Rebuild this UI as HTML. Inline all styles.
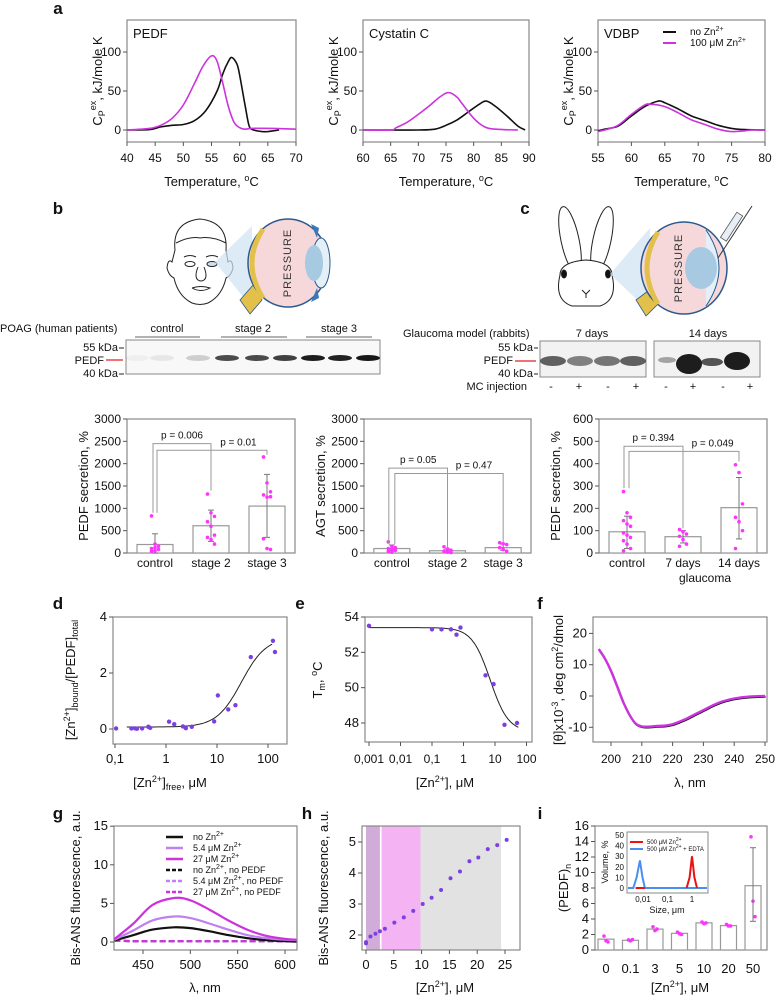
<!DOCTYPE html>
<html><head><meta charset="utf-8"><style>
html,body{margin:0;padding:0;background:#fff;}
svg{display:block;font-family:"Liberation Sans",sans-serif;}
</style></head><body>
<svg id="fig" width="775" height="999" viewBox="0 0 775 999" xmlns="http://www.w3.org/2000/svg">
<rect width="775" height="999" fill="#fff"/>
<!-- Panel b illustration -->
<g fill="none" stroke="#222" stroke-width="1">
<path d="M175,250 Q172,222 200,219 Q228,222 226,250 L228,262 Q232,258 233,268 Q231,276 226,278 Q222,296 208,303 Q200,306 192,303 Q178,296 174,278 Q169,276 167,268 Q168,258 172,262 Z"/>
<path d="M176,243 Q190,236 200,238 Q212,236 226,243" />
<path d="M184,257 q6,-3 12,0"/><path d="M206,257 q6,-3 12,0"/>
<ellipse cx="190" cy="264" rx="5" ry="2.5"/><ellipse cx="212" cy="264" rx="5" ry="2.5" fill="#cfe0ee"/>
<path d="M198,267 q-4,10 0,13 q3,2 6,0 q4,-3 0,-13"/>
<path d="M192,288 q9,-3 18,0 q-9,5 -18,0"/>
</g>
<polygon points="215,262 252,226 252,308" fill="#cfe3f2" opacity="0.7"/>
<g>
<polygon points="240,300 254,284 262,300 250,314" fill="#e2c04a" stroke="#2d5a8e" stroke-width="0.8"/>
<ellipse cx="288" cy="263" rx="40" ry="44" fill="#f6d8db" stroke="#2d5a8e" stroke-width="1.5"/>
<path d="M263,229 Q241,263 263,298" stroke="#e2c04a" stroke-width="5" fill="none"/>
<ellipse cx="321" cy="263" rx="9" ry="25" fill="#e3f0f8" stroke="#2d5a8e" stroke-width="1"/>
<ellipse cx="314" cy="263" rx="9" ry="18" fill="#a8c9e2"/>
<path d="M311,224 l8,4 l-2,10z M311,302 l8,-4 l-2,-10z" fill="#3c77b8"/>
<text x="0" y="0" transform="translate(291,263) rotate(-90)" text-anchor="middle" font-size="11" letter-spacing="1" fill="#333">PRESSURE</text>
</g>
<!-- Panel c illustration -->
<g fill="#fff" stroke="#222" stroke-width="1">
<ellipse cx="570" cy="240" rx="9" ry="34" transform="rotate(-12 570 240)"/>
<ellipse cx="602" cy="240" rx="9" ry="34" transform="rotate(12 602 240)"/>
<path d="M560,275 Q560,262 586,260 Q612,262 612,275 Q618,300 600,306 L572,306 Q554,300 560,275Z"/>
<ellipse cx="564" cy="274" rx="2.5" ry="4" fill="#111"/><ellipse cx="608" cy="274" rx="2.5" ry="4" fill="#111"/>
<path d="M582,290 l4,4 l4,-4 M586,294 v4"/>
</g>
<polygon points="610,274 650,228 650,312" fill="#cfe3f2" opacity="0.7"/>
<g>
<polygon points="636,300 652,288 660,302 646,316" fill="#e2c04a" stroke="#2d5a8e" stroke-width="0.8"/>
<ellipse cx="684" cy="268" rx="43" ry="46" fill="#f6d8db" stroke="#2d5a8e" stroke-width="1.5"/>
<path d="M658,232 Q636,268 658,304" stroke="#e2c04a" stroke-width="5" fill="none"/>
<path d="M706,230 Q732,268 706,306" fill="#e3f0f8" stroke="#2d5a8e" stroke-width="1"/>
<ellipse cx="701" cy="268" rx="16" ry="21" fill="#a8c9e2"/>
<text x="0" y="0" transform="translate(682,268) rotate(-90)" text-anchor="middle" font-size="11" letter-spacing="1" fill="#333">PRESSURE</text>
<line x1="718" y1="258" x2="752" y2="206" stroke="#333" stroke-width="1"/>
<rect x="728" y="212" width="7" height="30" transform="rotate(33 732 227)" fill="#e8eef6" stroke="#555" stroke-width="0.8"/>
</g>
<!-- Blots -->
<g font-size="11" fill="#111">
<text x="0" y="332">POAG (human patients)</text>
<text x="167" y="332" text-anchor="middle">control</text>
<text x="253" y="332" text-anchor="middle">stage 2</text>
<text x="339" y="332" text-anchor="middle">stage 3</text>
<g stroke="#666"><line x1="135" y1="337" x2="200" y2="337"/><line x1="221" y1="337" x2="287" y2="337"/><line x1="306" y1="337" x2="372" y2="337"/></g>
<text x="118" y="351" text-anchor="end">55 kDa</text>
<text x="104" y="364" text-anchor="end">PEDF</text>
<text x="118" y="377" text-anchor="end">40 kDa</text>
<text x="403" y="337">Glaucoma model (rabbits)</text>
<text x="592" y="337" text-anchor="middle">7 days</text>
<text x="708" y="337" text-anchor="middle">14 days</text>
<text x="533" y="351" text-anchor="end">55 kDa</text>
<text x="513" y="364" text-anchor="end">PEDF</text>
<text x="533" y="377" text-anchor="end">40 kDa</text>
<text x="527" y="390" text-anchor="end">MC injection</text>
</g>
<g stroke="#222"><line x1="119" y1="348" x2="124" y2="348"/><line x1="119" y1="374" x2="124" y2="374"/><line x1="534" y1="348" x2="538" y2="348"/><line x1="534" y1="374" x2="538" y2="374"/></g>
<g stroke="#e02020" stroke-width="1.2"><line x1="106" y1="360" x2="123" y2="360"/><line x1="515" y1="361" x2="536" y2="361"/></g>
<rect x="126" y="340" width="254" height="34" fill="#f8f8f8" stroke="#888"/>
<rect x="540" y="341" width="106" height="36" fill="#f2f2f2" stroke="#888"/>
<rect x="654" y="341" width="106" height="36" fill="#f2f2f2" stroke="#888"/>
<g id="bands"></g>
<g id="charts"></g>
</svg>
<script>
// ===== data =====
// panel a
const aPedfNoT=[40,44,46,48,50,52,54,56,57,58,58.6,59.5,60,61,61.7,62.5,64,65,66,67];
const aPedfNoV=[0,0.5,4,6,7,12,25,50,72,88,93,85,70,30,5,0,-2,-2,-1,0];
const aPedfZnT=[40,44,46,48,50,52,53.5,55,56,57,58,59,60,61,62,66,70];
const aPedfZnV=[0,2,6,15,32,60,82,95,88,60,30,10,3,1,2,2,1];
const aCysNoT=[60,65,70,73,75,77,79,81,82.3,84,86,88,89.3];
const aCysNoV=[0,0,0,1,6,13,23,33,37,30,18,5,0];
const aCysZnT=[60,65,66,68,70,72,74,75.5,77,78,80,82,84,88];
const aCysZnV=[0,0,3,10,20,31,43,48,42,33,15,4,1,0];
const aVdNoT=[55,56,58,60,62,64,65,67,69,71,73,75,77,80];
const aVdNoV=[-1,1,5,18,30,37,35,27,18,12,6,2,0.5,0];
const aVdZnT=[55,56,58,60,62,63,65,67,69,71,73,75,77,78,80];
const aVdZnV=[-2,0,6,20,32,33,30,22,13,7,1,-2,-1,0,0];
// panel b/c bar charts
const b1Cats=["control","stage 2","stage 3"];
const b1Vals=[190,610,1050];
const b1ErrLo=[0,260,350];
const b1ErrHi=[430,960,1760];
const b1Dots=[[830,200,150,100,50,80,40,120],[1320,900,820,700,600,400,350,300,200],[2150,1570,1370,1300,1250,1260,320,100,80]];
const b1Ticks=[0,500,1000,1500,2000,2500,3000];
const b2Cats=["control","stage 2","stage 3"];
const b2Vals=[100,50,120];
const b2ErrLo=[60,20,60];
const b2ErrHi=[180,90,200];
const b2Dots=[[250,150,120,100,80,60,40,20],[140,90,60,40,20,10],[230,210,190,120,80,40]];
const b2Ticks=[0,500,1000,1500,2000,2500,3000];
const cCats=["control","7 days","14 days"];
const cVals=[95,73,203];
const cErrLo=[20,45,63];
const cErrHi=[165,100,338];
const cDots=[[275,180,160,145,130,120,90,80,70,55,40,20,10],[105,95,85,75,60,40,30],[395,360,220,160,140,100,20]];
const cTicks=[0,100,200,300,400,500,600];
// panel d
const dX=[0.105,0.21,0.25,0.27,0.34,0.45,0.49,1.15,1.45,2.15,2.45,3.2,8.8,10.4,16.6,23,46,125,137];
const dY=[0.02,0.02,0.02,0.01,0.02,0.08,0.04,0.26,0.17,0.09,0.03,0.08,0.27,1.2,0.7,0.85,2.57,3.15,2.75];
const dFit=[0.07,3.2,30,1.8]; // base, amplitude, K, n
// panel e
const eX=[0.001,0.1,0.2,0.4,0.6,0.8,5,9,20,50];
const eY=[53.5,53.3,53.3,53.3,53.0,53.4,50.7,50.2,47.9,48.0];
const eFit=[47.5,5.9,7,1.5];
// panel f
const fL=[196,198,200,202,204,206,208,210,212,215,218,220,222,225,228,230,233,236,240,245,250];
const fV=[15,12,8,3,-2,-6,-8.8,-9.7,-9.8,-9.6,-9.4,-9,-8.3,-7,-5.5,-4.5,-3,-1.8,-0.8,-0.2,0];
// panel g
const gL=[420,440,460,483,500,520,540,560,580,600,612];
const gBlack=[0.2,0.9,1.6,1.9,1.8,1.4,0.9,0.5,0.25,0.1,0.05];
const gLight=[0.3,1.5,2.8,3.3,3.1,2.4,1.6,0.9,0.5,0.3,0.25];
const gMag=[0.4,2.4,4.8,5.7,5.4,4.2,2.8,1.6,0.8,0.4,0.3];
const gDash=[0.2,0.1,0.1,0.1,0.1,0.1,0.1,0.1,0.1,0.1,0.1];
// panel h
const hX=[0,0,0.8,1.7,2.5,3.4,5.1,6.8,8.5,10.2,11.8,13.5,15.2,16.9,18.6,20.2,21.9,23.6,25.3];
const hY=[1.73,1.77,1.95,2.04,2.12,2.2,2.4,2.57,2.78,3.0,3.2,3.45,3.83,4.05,4.38,4.5,4.77,4.9,5.07];
const hBands=[[0,2.5,"#d2acd8"],[2.8,9.8,"#f4b4f4"],[9.8,24.3,"#e2e2e2"]];
// panel i
const iCats=["0","0.1","3","5","10","20","50"];
const iVals=[1.4,1.25,2.7,2.15,3.5,3.15,8.3];
const iDots=[[1.8,1.2,1.05],[1.3,1.2,1.35],[3.0,2.5,2.7],[2.3,2.1,2.0],[3.6,3.4,3.5],[3.3,3.1,3.1],[14.6,6.3,4.3]];
const iErrLo=[3.7];
const iErrHi=[13.2];
const iInBlueS=[0.0015,0.004,0.0055,0.0075,0.0095,0.012,0.05,2,5];
const iInBlueV=[0,0,10,26,10,0,0,0,0];
const iInRedBaseS=[0.005,0.012];
const iInRedBaseV=[0,0];
const iInRedPeakS=[0.6,0.8,1.0,1.25,1.6];
const iInRedPeakV=[0,10,30,10,0];

// ===== helpers =====
const NS='http://www.w3.org/2000/svg';
const root=document.getElementById('charts');
function mk(tag,attrs,parent,name){
  const e=document.createElementNS(NS,tag);
  for(const k in attrs) e.setAttribute(k,attrs[k]);
  
  
  (parent||root).appendChild(e);
  return e;
}
function txt(x,y,s,size,anchor,parent,name,extra){
  const a=Object.assign({x:x,y:y,'font-size':size,'text-anchor':anchor||'middle',fill:'#111'},extra||{});
  const t=mk('text',a,parent,name);
  t.innerHTML=s;
  return t;
}
function lin(d0,d1,r0,r1){return v=>r0+(v-d0)*(r1-r0)/(d1-d0);}
function logs(d0,r0,k){return v=>r0+(Math.log10(v)-Math.log10(d0))*k;}
function smooth(p){
  let d='M'+p[0][0].toFixed(1)+','+p[0][1].toFixed(1);
  for(let i=0;i<p.length-1;i++){
    const p0=p[i-1]||p[i],p1=p[i],p2=p[i+1],p3=p[i+2]||p2;
    const c1=[p1[0]+(p2[0]-p0[0])/6,p1[1]+(p2[1]-p0[1])/6];
    const c2=[p2[0]-(p3[0]-p1[0])/6,p2[1]-(p3[1]-p1[1])/6];
    d+=' C'+c1[0].toFixed(1)+','+c1[1].toFixed(1)+' '+c2[0].toFixed(1)+','+c2[1].toFixed(1)+' '+p2[0].toFixed(1)+','+p2[1].toFixed(1);
  }
  return d;
}
function poly(p){return 'M'+p.map(q=>q[0].toFixed(1)+','+q[1].toFixed(1)).join(' L');}
function box(x0,y0,x1,y1,g,name){mk('rect',{x:x0,y:y0,width:x1-x0,height:y1-y0,fill:'none',stroke:'#888','stroke-width':1.2},g,name);}
function yTicks(vals,fy,x0,g,size,fmt){
  vals.forEach(v=>{const y=fy(v);
    mk('line',{x1:x0-4,y1:y,x2:x0,y2:y,stroke:'#555'},g,'y-tick');
    txt(x0-6,y+4,fmt?fmt(v):String(v),size||12,'end',g,'y-tick-label');});
}
function xTicks(vals,labels,fx,y0,g,ly,size){
  vals.forEach((v,i)=>{const x=fx(v);
    mk('line',{x1:x,y1:y0,x2:x,y2:y0+4,stroke:'#555'},g,'x-tick');
    txt(x,ly,labels[i],size||12,'middle',g,'x-tick-label');});
}
function ytitle(x,y,html,g,name,size){
  const t=mk('text',{x:0,y:0,transform:'translate('+x+','+y+') rotate(-90)','font-size':size||13,'text-anchor':'middle',fill:'#111'},g,name);
  t.innerHTML=html; return t;
}
function panelLabel(x,y,s){txt(x,y,s,17,'middle',root,'panel-label-'+s,{'font-weight':'bold'});}

['a','b','c','d','e','f','g','h','i'].forEach((s,i)=>{
  const pos=[[58,14],[58,214],[525,214],[58,609],[300,609],[540,609],[58,819],[307,819],[540,819]][i];
  panelLabel(pos[0],pos[1],s);
});

// ===== bands in blots =====
const bandG=document.getElementById('bands');
const bStrength=[0.04,0.07,0.18,0.75,0.75,0.8,0.95,0.93,0.97];
const bX=[137,162,198,227,257,285,313,340,368];
bStrength.forEach((s,i)=>mk('ellipse',{cx:bX[i],cy:358,rx:12,ry:3,fill:'#111',opacity:s},bandG,'band-b'));
const c1S=[0.7,0.55,0.6,0.7];
[553,580,607,633].forEach((x,i)=>mk('ellipse',{cx:x,cy:361,rx:13,ry:5,fill:'#222',opacity:c1S[i]},bandG,'band-c-7days'));
const c2S=[[667,360,9,3,0.35],[689,364,13,10,0.95],[712,362,11,4,0.7],[737,361,13,9,0.95]];
c2S.forEach(b=>mk('ellipse',{cx:b[0],cy:b[1],rx:b[2],ry:b[3],fill:'#111',opacity:b[4]},bandG,'band-c-14days'));
['-','+','-','+','-','+','-','+'].forEach((s,i)=>txt([551,579,608,636,666,693,723,750][i],390,s,11,'middle',bandG,'mc-injection-sign'));

// ===== panel a =====
function panelA(x0,x1,dmin,dmax,step,nameLbl,curves,gname){
  const g=mk('g',{},root,gname);
  const fx=lin(dmin,dmax,x0,x1), fy=lin(0,100,130,52);
  box(x0,20,x1,142,g,'plot-frame');
  yTicks([0,50,100],fy,x0,g,12);
  const tv=[];for(let v=dmin;v<=dmax;v+=step)tv.push(v);
  xTicks(tv,tv.map(String),fx,142,g,162,12);
  txt((x0+x1)/2,186,'Temperature, <tspan dy="-5" font-size="9">o</tspan><tspan dy="5">C</tspan>',13,'middle',g,'x-axis-title');
  ytitle(x0-25,81,'C<tspan dy="3" font-size="9">P</tspan><tspan dy="-9" font-size="9">ex</tspan><tspan dy="6">, kJ/mole K</tspan>',g,'y-axis-title');
  txt(x0+6,38,nameLbl,13,'start',g,'protein-label');
  curves.forEach(c=>{
    const pts=c[0].map((t,i)=>[fx(t),fy(c[1][i])]);
    mk('path',{d:smooth(pts),fill:'none',stroke:c[2],'stroke-width':1.6},g,c[3]);
  });
}
panelA(127,296,40,70,5,'PEDF',[[aPedfNoT,aPedfNoV,'#111','pedf-no-zn-curve'],[aPedfZnT,aPedfZnV,'#cc33dd','pedf-zn-curve']],'panel-a-pedf');
panelA(363,529,60,90,5,'Cystatin C',[[aCysNoT,aCysNoV,'#111','cystatin-no-zn-curve'],[aCysZnT,aCysZnV,'#cc33dd','cystatin-zn-curve']],'panel-a-cystatin');
panelA(598,765,55,80,5,'VDBP',[[aVdNoT,aVdNoV,'#111','vdbp-no-zn-curve'],[aVdZnT,aVdZnV,'#cc33dd','vdbp-zn-curve']],'panel-a-vdbp');
{const g=mk('g',{},root,'legend-a');
 mk('line',{x1:663,y1:32,x2:676,y2:32,stroke:'#111','stroke-width':2},g,'legend-swatch-no-zn');
 txt(690,35,'no Zn<tspan dy="-4" font-size="7">2+</tspan>',10,'start',g,'legend-entry-no-zn');
 mk('line',{x1:663,y1:43,x2:676,y2:43,stroke:'#cc33dd','stroke-width':2},g,'legend-swatch-zn');
 txt(690,46,'100 μM Zn<tspan dy="-4" font-size="7">2+</tspan>',10,'start',g,'legend-entry-zn');}

// ===== bar charts b, c =====
function barChart(o){
  const g=mk('g',{},root,o.name);
  const fy=lin(0,o.max,553,419);
  const n=o.cats.length, bw=(o.x1-o.x0)/n;
  box(o.x0,419,o.x1,553,g,'plot-frame');
  yTicks(o.ticks,fy,o.x0,g,12);
  o.cats.forEach((c,i)=>{
    const cx=o.x0+(i+0.5)*bw;
    mk('rect',{x:cx-18,y:fy(o.vals[i]),width:36,height:553-fy(o.vals[i]),fill:'#fff',stroke:'#999','stroke-width':1.2},g,'bar-'+c.replace(' ','-'));
    mk('line',{x1:cx,y1:fy(o.lo[i]),x2:cx,y2:fy(o.hi[i]),stroke:'#777'},g,'error-bar');
    mk('line',{x1:cx-3,y1:fy(o.hi[i]),x2:cx+3,y2:fy(o.hi[i]),stroke:'#777'},g,'error-cap');
    mk('line',{x1:cx-3,y1:fy(o.lo[i]),x2:cx+3,y2:fy(o.lo[i]),stroke:'#777'},g,'error-cap');
    o.dots[i].forEach((v,j)=>mk('circle',{cx:cx+((j%3)-1)*3.5,cy:fy(v),r:1.8,fill:'#ff33ff'},g,'data-point'));
    txt(cx,567,c,12,'middle',g,'x-tick-label');
  });
  ytitle(o.x0-39,486,o.ytitle,g,'y-axis-title');
  o.br.forEach(b=>{
    const xa=o.x0+(b[0]+0.5)*bw+b[5], xb=o.x0+(b[1]+0.5)*bw;
    mk('path',{d:'M'+xa+','+fy(b[3])+' V'+fy(b[2])+' H'+xb+' V'+fy(b[4]),fill:'none',stroke:'#999'},g,'significance-bracket');
    txt(xa+(xb-xa)*b[7],fy(b[2])-5,b[6],10,'middle',g,'p-value-label');
  });
  return g;
}
barChart({name:'panel-b-pedf-secretion',x0:127,x1:295,max:3000,ticks:b1Ticks,cats:b1Cats,vals:b1Vals,lo:b1ErrLo,hi:b1ErrHi,dots:b1Dots,ytitle:'PEDF secretion, %',
  br:[[0,1,2450,900,1400,-2,'p = 0.006',0.5],[0,2,2300,900,2200,2,'p = 0.01',0.74]]});
barChart({name:'panel-b-agt-secretion',x0:364,x1:531,max:3000,ticks:b2Ticks,cats:b2Cats,vals:b2Vals,lo:b2ErrLo,hi:b2ErrHi,dots:b2Dots,ytitle:'AGT secretion, %',
  br:[[0,1,1900,200,100,-3,'p = 0.05',0.5],[0,2,1780,200,220,3,'p = 0.47',0.73]]});
const cg=barChart({name:'panel-c-pedf-secretion',x0:599,x1:767,max:600,ticks:cTicks,cats:cCats,vals:cVals,lo:cErrLo,hi:cErrHi,dots:cDots,ytitle:'PEDF secretion, %',
  br:[[0,1,478,290,110,-3,'p = 0.394',0.5],[0,2,455,290,410,2,'p = 0.049',0.76]]});
txt(705,582,'glaucoma',12,'middle',cg,'glaucoma-group-label');

// ===== panel d =====
{const g=mk('g',{},root,'panel-d');
 const fx=logs(0.1,115,51), fy=lin(0,4,729,617);
 box(113,617,287,744,g,'plot-frame');
 yTicks([0,2,4],fy,113,g,13);
 xTicks([0.1,1,10,100],['0,1','1','10','100'],fx,744,g,763,13);
 txt(170,787,'[Zn<tspan dy="-5" font-size="9">2+</tspan><tspan dy="5">]</tspan><tspan dy="3" font-size="9">free</tspan><tspan dy="-3">, μM</tspan>',13,'middle',g,'x-axis-title');
 ytitle(75,680,'[Zn<tspan dy="-5" font-size="9">2+</tspan><tspan dy="5">]</tspan><tspan dy="3" font-size="9">bound</tspan><tspan dy="-3">/[PEDF]</tspan><tspan dy="3" font-size="9">total</tspan>',g,'y-axis-title');
 const pts=[];for(let lx=Math.log10(0.17);lx<=Math.log10(125);lx+=0.03){const x=Math.pow(10,lx);pts.push([fx(x),fy(dFit[0]+dFit[1]*Math.pow(x,dFit[3])/(Math.pow(dFit[2],dFit[3])+Math.pow(x,dFit[3])))]);}
 mk('path',{d:poly(pts),fill:'none',stroke:'#222','stroke-width':1},g,'fit-curve');
 dX.forEach((x,i)=>mk('circle',{cx:fx(x),cy:fy(dY[i]),r:2.2,fill:'#7c3fe0'},g,'data-point'));}

// ===== panel e =====
{const g=mk('g',{},root,'panel-e');
 const fx=logs(0.001,369,31.5), fy=lin(54,48,617,723);
 box(365,617,532,742,g,'plot-frame');
 yTicks([48,50,52,54],fy,365,g,13);
 xTicks([0.001,0.01,0.1,1,10,100],['0,001','0,01','0,1','1','10','100'],fx,742,g,763,12);
 txt(445,787,'[Zn<tspan dy="-5" font-size="9">2+</tspan><tspan dy="5">], μM</tspan>',13,'middle',g,'x-axis-title');
 ytitle(322,680,'T<tspan dy="3" font-size="9">m</tspan><tspan dy="-3">, </tspan><tspan dy="-5" font-size="9">o</tspan><tspan dy="5">C</tspan>',g,'y-axis-title');
 const pts=[];for(let lx=-3;lx<=Math.log10(55);lx+=0.03){const x=Math.pow(10,lx);pts.push([fx(x),fy(eFit[0]+eFit[1]/(1+Math.pow(x/eFit[2],eFit[3])))]);}
 mk('path',{d:poly(pts),fill:'none',stroke:'#222','stroke-width':1},g,'fit-curve');
 eX.forEach((x,i)=>mk('circle',{cx:fx(x),cy:fy(eY[i]),r:2.2,fill:'#7c3fe0'},g,'data-point'));}

// ===== panel f =====
{const g=mk('g',{},root,'panel-f');
 const fx=lin(200,250,611,765), fy=lin(0,10,696,664.7);
 box(593,617,767,742,g,'plot-frame');
 yTicks([-10,0,10,20],fy,593,g,13);
 xTicks([200,210,220,230,240,250],['200','210','220','230','240','250'],fx,742,g,763,12);
 txt(690,787,'λ, nm',13,'middle',g,'x-axis-title');
 ytitle(563,680,'[θ]x10<tspan dy="-5" font-size="9">-3</tspan><tspan dy="5">, deg cm</tspan><tspan dy="-5" font-size="9">2</tspan><tspan dy="5">/dmol</tspan>',g,'y-axis-title');
 const p=fL.map((l,i)=>[fx(l),fy(fV[i])]);
 mk('path',{d:smooth(p.map(q=>[q[0]+0.5,q[1]+0.8])),fill:'none',stroke:'#111','stroke-width':2},g,'cd-spectrum-no-zn');
 mk('path',{d:smooth(p),fill:'none',stroke:'#cc33dd','stroke-width':2.4},g,'cd-spectrum-zn');}

// ===== panel g =====
{const g=mk('g',{},root,'panel-g');
 const fx=lin(450,600,143,285), fy=lin(0,5,942,903.4);
 box(114,826,297,950,g,'plot-frame');
 yTicks([0,5,10,15],fy,114,g,13);
 xTicks([450,500,550,600],['450','500','550','600'],fx,950,g,969,13);
 txt(205,992,'λ, nm',13,'middle',g,'x-axis-title');
 ytitle(80,888,'Bis-ANS fluorescence, a.u.',g,'y-axis-title');
 const series=[[gDash,'#111','6,3','no-zn-no-pedf'],[gDash,'#c080f0','6,3','5uM-no-pedf'],[gDash,'#cc33dd','6,3','27uM-no-pedf'],[gBlack,'#111','','no-zn'],[gLight,'#c080f0','','5uM'],[gMag,'#cc33dd','','27uM']];
 series.forEach(s=>{const a={d:smooth(gL.map((l,i)=>[fx(l),fy(s[0][i])])),fill:'none',stroke:s[1],'stroke-width':2.2};if(s[2])a['stroke-dasharray']=s[2];mk('path',a,g,'spectrum-'+s[3]);});
 const leg=[['no Zn<tspan dy="-4" font-size="7">2+</tspan>','#111',''],['5.4 μM Zn<tspan dy="-4" font-size="7">2+</tspan>','#c080f0',''],['27 μM Zn<tspan dy="-4" font-size="7">2+</tspan>','#cc33dd',''],
  ['no Zn<tspan dy="-4" font-size="7">2+</tspan><tspan dy="4">, no PEDF</tspan>','#111','4,2'],['5.4 μM Zn<tspan dy="-4" font-size="7">2+</tspan><tspan dy="4">, no PEDF</tspan>','#c080f0','4,2'],['27 μM Zn<tspan dy="-4" font-size="7">2+</tspan><tspan dy="4">, no PEDF</tspan>','#cc33dd','4,2']];
 leg.forEach((e,i)=>{const y=837+i*11;const a={x1:166,y1:y,x2:183,y2:y,stroke:e[1],'stroke-width':2.5};if(e[2])a['stroke-dasharray']=e[2];
  mk('line',a,g,'legend-swatch');txt(193,y+3,e[0],9,'start',g,'legend-entry');});}

// ===== panel h =====
{const g=mk('g',{},root,'panel-h');
 const fx=lin(0,25,366,505), fy=lin(3,5,904,842);
 hBands.forEach(b=>mk('rect',{x:fx(b[0]),y:826,width:fx(b[1])-fx(b[0]),height:124,fill:b[2]},g,'shaded-region'));
 box(362,826,520,950,g,'plot-frame');
 yTicks([2,3,4,5],fy,362,g,13);
 xTicks([0,5,10,15,20,25],['0','5','10','15','20','25'],fx,950,g,969,13);
 txt(445,992,'[Zn<tspan dy="-5" font-size="9">2+</tspan><tspan dy="5">], μM</tspan>',13,'middle',g,'x-axis-title');
 ytitle(328,888,'Bis-ANS fluorescence, a.u.',g,'y-axis-title');
 hX.forEach((x,i)=>mk('circle',{cx:fx(x),cy:fy(hY[i]),r:2,fill:'#7c3fe0'},g,'data-point'));}

// ===== panel i =====
{const g=mk('g',{},root,'panel-i');
 const fy=lin(0,16,950,826), step=24.5;
 box(595,826,767,950,g,'plot-frame');
 yTicks([0,2,4,6,8,10,12,14,16],fy,595,g,13);
 iCats.forEach((c,i)=>{const cx=606+i*step;
  mk('rect',{x:cx-8,y:fy(iVals[i]),width:16,height:950-fy(iVals[i]),fill:'#fff',stroke:'#999','stroke-width':1.2},g,'bar-'+c);
  iDots[i].forEach((v,j)=>mk('circle',{cx:cx+((j%3)-1)*2,cy:fy(v),r:1.8,fill:'#ff33ff'},g,'data-point'));
  txt(cx,973,c,13,'middle',g,'x-tick-label');});
 const ex=606+6*step;
 mk('line',{x1:ex,y1:fy(iErrLo[0]),x2:ex,y2:fy(iErrHi[0]),stroke:'#777'},g,'error-bar');
 mk('line',{x1:ex-3,y1:fy(iErrHi[0]),x2:ex+3,y2:fy(iErrHi[0]),stroke:'#777'},g,'error-cap');
 mk('line',{x1:ex-3,y1:fy(iErrLo[0]),x2:ex+3,y2:fy(iErrLo[0]),stroke:'#777'},g,'error-cap');
 txt(680,992,'[Zn<tspan dy="-5" font-size="9">2+</tspan><tspan dy="5">], μM</tspan>',13,'middle',g,'x-axis-title');
 ytitle(568,888,'(PEDF)<tspan dy="3" font-size="9">n</tspan>',g,'y-axis-title');
 // inset
 const ig=mk('g',{},g,'inset-size-distribution');
 const ix=logs(0.01,643,24.5), iy=lin(0,50,888,835);
 mk('rect',{x:627,y:832,width:81,height:61,fill:'#fff',stroke:'#888'},ig,'inset-frame');
 [0,10,20,30,40,50].forEach(v=>txt(624,iy(v)+3,String(v),8,'end',ig,'inset-y-tick-label'));
 [[0.01,'0,01'],[0.1,'0,1'],[1,'1']].forEach(t=>txt(ix(t[0]),902,t[1],8,'middle',ig,'inset-x-tick-label'));
 txt(667,913,'Size, μm',9,'middle',ig,'inset-x-axis-title');
 ytitle(608,862,'Volume, %',ig,'inset-y-axis-title',9);
 const clipx=v=>Math.max(628,Math.min(707,v));
 mk('path',{d:poly(iInBlueS.map((s,i)=>[clipx(ix(s)),iy(iInBlueV[i])])),fill:'none',stroke:'#4a8ff0','stroke-width':2},ig,'edta-size-curve');
 mk('path',{d:poly(iInRedBaseS.map((s,i)=>[ix(s),iy(iInRedBaseV[i])])),fill:'none',stroke:'#ee1111','stroke-width':2},ig,'zn-size-baseline');
 mk('path',{d:poly(iInRedPeakS.map((s,i)=>[ix(s),iy(iInRedPeakV[i])])),fill:'none',stroke:'#ee1111','stroke-width':2},ig,'zn-size-curve');
 mk('line',{x1:630,y1:842,x2:643,y2:842,stroke:'#ee1111','stroke-width':2},ig,'inset-legend-swatch-zn');
 txt(647,844,'500 μM Zn<tspan dy="-3" font-size="5">2+</tspan>',6,'start',ig,'inset-legend-zn');
 mk('line',{x1:630,y1:849,x2:643,y2:849,stroke:'#4a8ff0','stroke-width':2},ig,'inset-legend-swatch-edta');
 txt(647,851,'500 μM Zn<tspan dy="-3" font-size="5">2+</tspan><tspan dy="3"> + EDTA</tspan>',6,'start',ig,'inset-legend-edta');}
</script>
</body></html>
